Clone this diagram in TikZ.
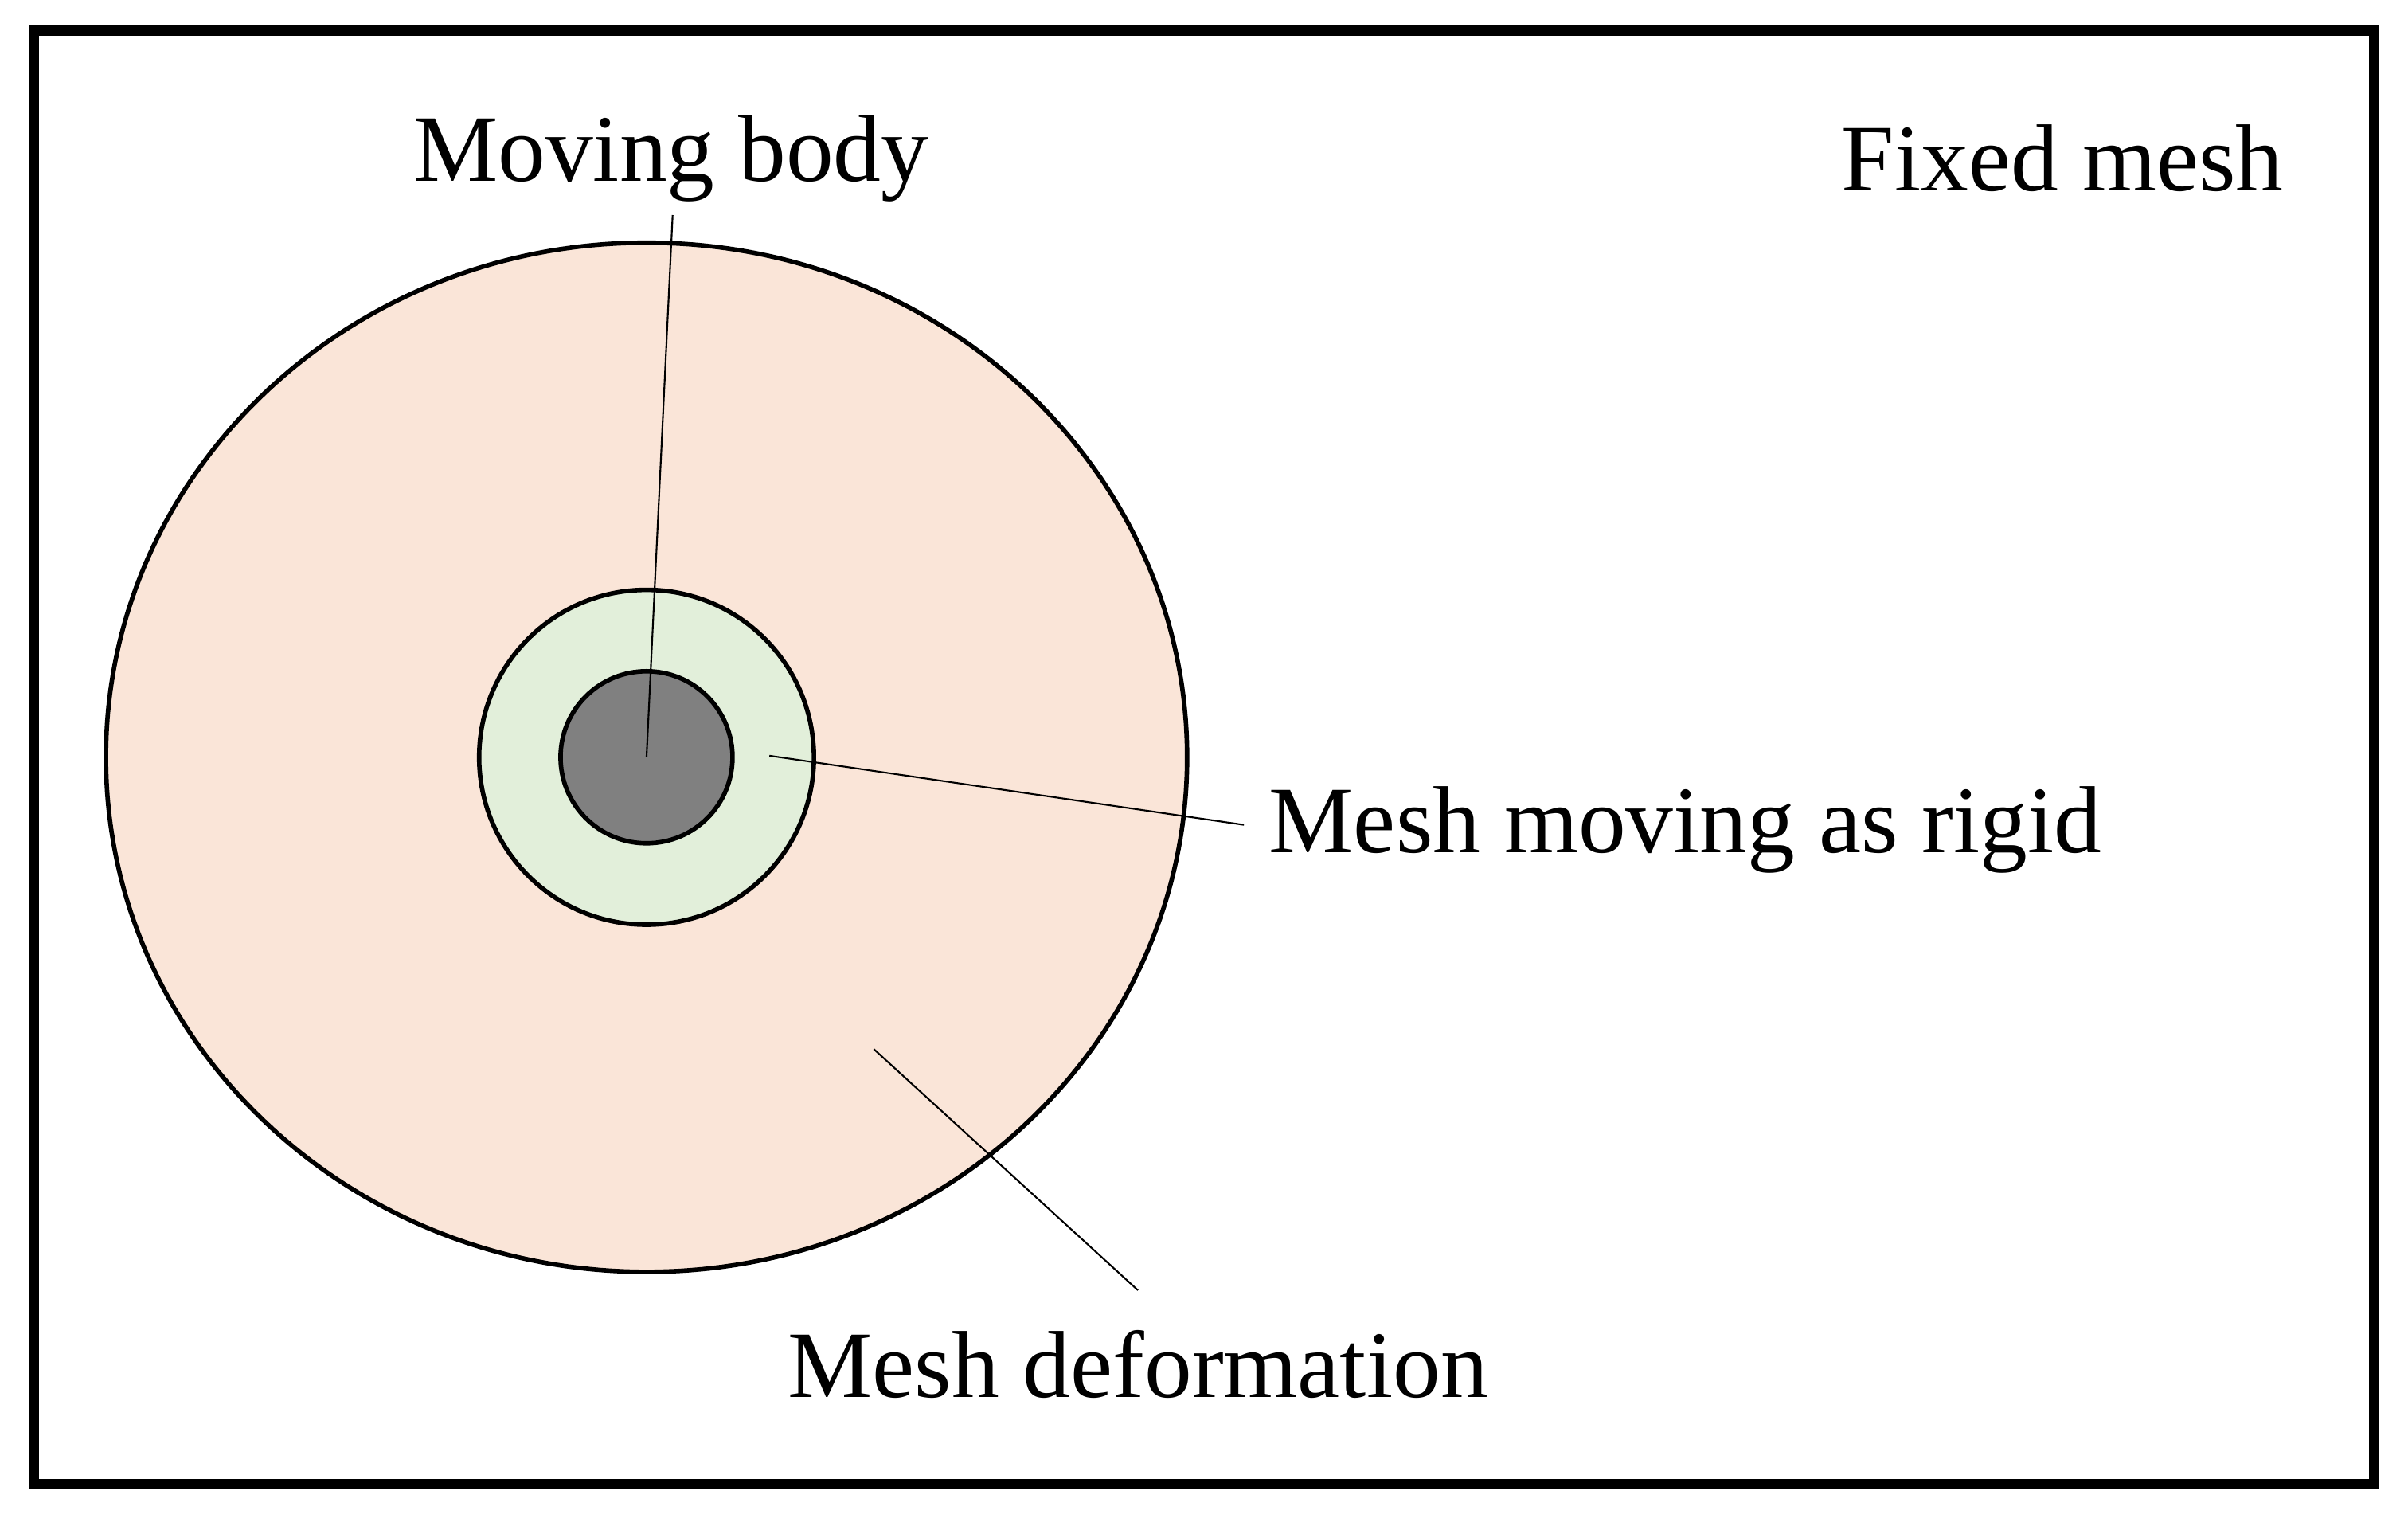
\documentclass[tikz,border=0pt]{standalone}
\usepackage{fontspec}
\setmainfont{Liberation Serif}
\definecolor{peach}{HTML}{FAE5D8}
\definecolor{lgreen}{HTML}{E2EFDA}
\definecolor{gbody}{HTML}{808080}
\begin{document}
\begin{tikzpicture}[x=0.019286cm,y=-0.019286cm,
  lbl/.style={font=\fontsize{34}{40}\selectfont,inner sep=0pt},
  ln/.style={line width=0.6pt},
  zone/.style={line width=1.6pt,draw=black}]
\useasboundingbox (0,0) rectangle (1568,995.6);
\draw[line width=3.5pt] (22,20) rectangle (1546,966);
\draw[zone,fill=peach] (421,493) ellipse [x radius=352,y radius=335];
\draw[zone,fill=lgreen] (421,493) circle [radius=109];
\draw[zone,fill=gbody] (421,493) circle [radius=56];
\coordinate (c) at (421,493);
\node[lbl] (mb) at (437,103) {Moving body};
\node[lbl] (fm) at (1343,103) {Fixed mesh};
\node[lbl,anchor=west] (mr) at (826,540) {Mesh moving as rigid};
\node[lbl] (md) at (741,888) {Mesh deformation};
\coordinate (mbe) at (438,140);
\coordinate (mrs) at (501,492);
\coordinate (mre) at (810,537);
\coordinate (mds) at (569,683);
\coordinate (mde) at (741,840);
\draw[ln] (mbe) -- (c);
\draw[ln] (mrs) -- (mre);
\draw[ln] (mds) -- (mde);
\end{tikzpicture}
\end{document}
